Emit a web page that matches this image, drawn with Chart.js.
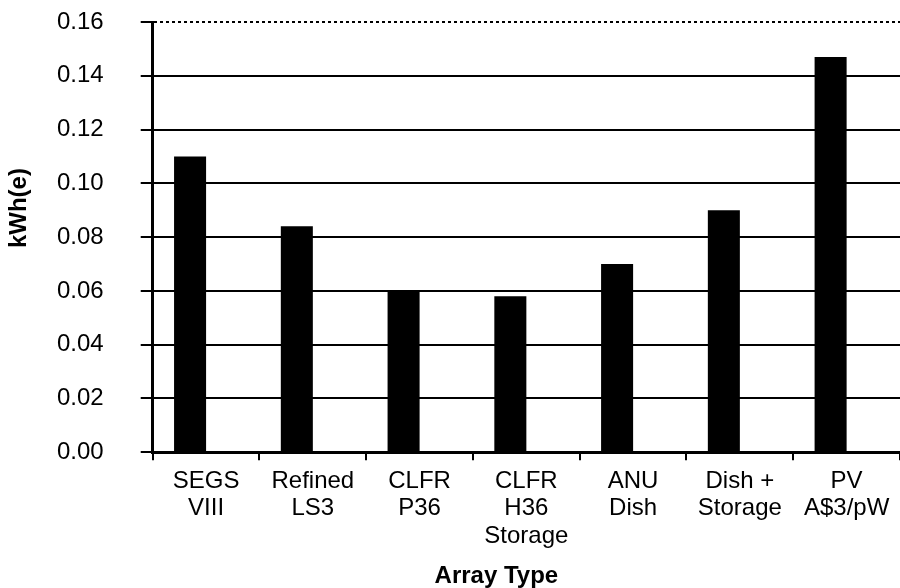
<!DOCTYPE html>
<html>
<head>
<meta charset="utf-8">
<script src="https://cdn.jsdelivr.net/npm/chart.js@4"></script>
<style>
  html, body { margin: 0; padding: 0; background: #fff; }
  #wrap { width: 900px; height: 588px; }
</style>
</head>
<body>
<div id="wrap"><canvas id="costChart"></canvas></div>
<script>
// Categorias (tipo de arranjo) e custos em kWh(e)
const categorias = [
    ['SEGS', 'VIII'],
    ['Refined', 'LS3'],
    ['CLFR', 'P36'],
    ['CLFR', 'H36', 'Storage'],
    ['ANU', 'Dish'],
    ['Dish +', 'Storage'],
    ['PV', 'A$3/pW']
];
const custos = [0.110, 0.084, 0.060, 0.058, 0.070, 0.090, 0.147];
// série vazia do Excel que empurra as barras para a esquerda
const serieVazia = [null, null, null, null, null, null, null];
const yMin = 0, yMax = 0.16, yPasso = 0.02;
const tituloX = 'Array Type';
const tituloY = 'kWh(e)';

const fonte = 'Liberation Sans, Arial, sans-serif';

// Títulos dos eixos desenhados à mão, centrados como no Excel (no gráfico, não na área de plotagem)
const titulosPlugin = {
    id: 'titulos',
    afterDraw(chart) {
        const { ctx, chartArea } = chart;
        const meio = (chartArea.left + chartArea.right) / 2;
        ctx.save();
        ctx.fillStyle = '#000';
        ctx.font = 'bold 24px ' + fonte;
        ctx.textAlign = 'center';
        ctx.textBaseline = 'middle';
        ctx.fillText(tituloX, meio - 30, chart.height - 12);
        ctx.translate(19, (chartArea.top + chartArea.bottom) / 2 - 29);
        ctx.rotate(-Math.PI / 2);
        ctx.fillText(tituloY, 0, 0);
        ctx.restore();
    }
};

const ctx = document.getElementById('costChart').getContext('2d');

new Chart(ctx, {
    type: 'bar',
    data: {
        labels: categorias,
        datasets: [
            {
                label: tituloY,
                data: custos,
                backgroundColor: '#000',
                borderWidth: 0,
                categoryPercentage: 0.6,
                barPercentage: 1
            },
            {
                label: '',
                data: serieVazia,
                backgroundColor: '#000',
                categoryPercentage: 0.6,
                barPercentage: 1
            }
        ]
    },
    plugins: [titulosPlugin],
    options: {
        responsive: true,
        maintainAspectRatio: false,
        animation: false,
        layout: { padding: { top: 22, right: 0, left: 20, bottom: 31 } },
        plugins: {
            legend: { display: false },
            tooltip: { enabled: false }
        },
        scales: {
            x: {
                offset: true,
                grid: {
                    display: true,
                    offset: true,
                    drawOnChartArea: false,
                    drawTicks: true,
                    tickLength: 8,
                    color: '#000',
                    lineWidth: 2
                },
                border: { display: true, color: '#000', width: 3 },
                ticks: {
                    color: '#000',
                    padding: 7,
                    maxRotation: 0,
                    minRotation: 0,
                    autoSkip: false,
                    font: { family: fonte, size: 24, lineHeight: 1.15 }
                }
            },
            y: {
                min: yMin,
                max: yMax,
                grid: {
                    color: '#000',
                    lineWidth: 2,
                    drawTicks: true,
                    tickLength: 12
                },
                border: {
                    display: true,
                    color: '#000',
                    width: 3,
                    dash: (c) => (c.tick && c.tick.value >= yMax - 1e-9) ? [3, 3] : []
                },
                ticks: {
                    stepSize: yPasso,
                    color: '#000',
                    padding: 37,
                    font: { family: fonte, size: 24 },
                    callback: (v) => Number(v).toFixed(2)
                },
                // o padding dos rótulos não deve empurrar a área de plotagem para baixo
                afterFit(scale) {
                    scale.paddingTop = 14;
                    scale.paddingBottom = 14;
                }
            }
        }
    }
});
</script>
</body>
</html>
